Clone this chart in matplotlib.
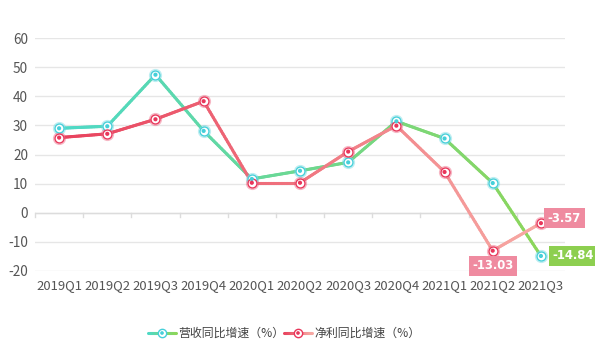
import numpy as np
import matplotlib
matplotlib.use("Agg")
import matplotlib.pyplot as plt
from matplotlib.collections import LineCollection
from matplotlib.colors import to_rgb

categories = ["2019Q1", "2019Q2", "2019Q3", "2019Q4", "2020Q1", "2020Q2",
              "2020Q3", "2020Q4", "2021Q1", "2021Q2", "2021Q3"]
revenue_yoy = [29.0, 29.7, 47.4, 28.1, 11.6, 14.4, 17.3, 31.4, 25.5, 10.2, -14.84]
profit_yoy = [25.8, 27.1, 32.1, 38.3, 10.3, 10.3, 21.0, 29.9, 14.0, -13.03, -3.57]
series_names = ["营收同比增速（%）", "净利同比增速（%）"]
y_ticks = [-20, -10, 0, 10, 20, 30, 40, 50, 60]

plt.rcParams['font.family'] = ['Noto Sans CJK SC', 'DejaVu Sans']

rev_c0, rev_c1 = "#4cd9c9", "#8dd65a"
pro_c0, pro_c1 = "#e8405c", "#f7aaa4"
rev_mk, pro_mk = "#45cfd9", "#e8365a"

W, H = 595, 353
fig = plt.figure(figsize=(W / 100, H / 100), dpi=100)
x0, x1, ytop, ybot = 35, 565, 38, 271
ax = fig.add_axes([x0 / W, 1 - ybot / H, (x1 - x0) / W, (ybot - ytop) / H])
ax.set_xlim(-0.5, len(categories) - 0.5)
ax.set_ylim(-20, 60)

for s in ax.spines.values():
    s.set_visible(False)
ax.set_yticks(y_ticks)
ax.set_yticklabels([str(v) for v in y_ticks])
ax.yaxis.grid(True, color="#e6e6e6", linewidth=1)
ax.set_axisbelow(True)
ax.tick_params(axis='y', length=0, pad=5, labelsize=9.8, labelcolor="#555555")
ax.set_xticks(range(len(categories)))
ax.set_xticklabels(categories)
ax.tick_params(axis='x', length=0, pad=6, labelsize=9.4, labelcolor="#555555")

# zero axis line with band ticks
ax.axhline(0, color="#dcdcdc", linewidth=1, zorder=1)
for b in np.arange(-0.5, len(categories), 1.0):
    ax.plot([b, b], [0, -1.6], color="#dcdcdc", linewidth=1, zorder=1, clip_on=False)


def gradient_line(axis, xs, ys, c0, c1, lw=2.2, z=3):
    xs = np.asarray(xs, float)
    ys = np.asarray(ys, float)
    segs, cols = [], []
    a0, a1 = to_rgb(c0), to_rgb(c1)
    xmin, xmax = xs.min(), xs.max()
    for i in range(len(xs) - 1):
        n = 30
        t = np.linspace(0, 1, n + 1)
        px = xs[i] + (xs[i + 1] - xs[i]) * t
        py = ys[i] + (ys[i + 1] - ys[i]) * t
        for k in range(n):
            segs.append([(px[k], py[k]), (px[k + 1], py[k + 1])])
            f = ((px[k] + px[k + 1]) / 2 - xmin) / (xmax - xmin)
            cols.append(tuple(a0[j] + (a1[j] - a0[j]) * f for j in range(3)))
    lc = LineCollection(segs, colors=cols, linewidths=lw, zorder=z,
                        capstyle='round', joinstyle='round')
    axis.add_collection(lc)


xs = np.arange(len(categories))
gradient_line(ax, xs, revenue_yoy, rev_c0, rev_c1)
gradient_line(ax, xs, profit_yoy, pro_c0, pro_c1)


def markers(axis, x, y, c, z=5):
    axis.scatter(x, y, s=72, facecolor="white", edgecolor=c, linewidth=1.0, zorder=z, alpha=0.35)
    axis.scatter(x, y, s=42, facecolor="white", edgecolor=c, linewidth=1.0, zorder=z + 0.1)
    axis.scatter(x, y, s=9, facecolor=c, edgecolor='none', zorder=z + 0.2)


markers(ax, xs, revenue_yoy, rev_mk)
markers(ax, xs, profit_yoy, pro_mk)

# value labels
lab_kw = dict(color="white", fontsize=8.4, fontweight='bold', family='DejaVu Sans', zorder=8)
ax.annotate(f"{profit_yoy[-1]:.2f}", (xs[-1], profit_yoy[-1]), xytext=(5, 3.5), textcoords='offset points',
            ha='left', va='center',
            bbox=dict(boxstyle='square,pad=0.3', fc="#ef8ba0", ec='none'), **lab_kw)
ax.annotate(f"{revenue_yoy[-1]:.2f}", (xs[-1], revenue_yoy[-1]), xytext=(8, 0), textcoords='offset points',
            ha='left', va='center',
            bbox=dict(boxstyle='square,pad=0.3', fc="#8dcf50", ec='none'), **lab_kw)
ax.annotate(f"{profit_yoy[-2]:.2f}", (xs[-2], profit_yoy[-2]), xytext=(0, -11), textcoords='offset points',
            ha='center', va='center',
            bbox=dict(boxstyle='square,pad=0.3', fc="#ef8ba0", ec='none'), **lab_kw)

# legend in pixel coordinates
lax = fig.add_axes([0, 0, 1, 1])
lax.set_xlim(0, W)
lax.set_ylim(H, 0)
lax.axis('off')
ly = 333
items = [(148, rev_c0, rev_c1, rev_mk, series_names[0]), (284, pro_c0, pro_c1, pro_mk, series_names[1])]
for lx, c0, c1, mk, name in items:
    gradient_line(lax, [lx, lx + 28], [ly, ly], c0, c1, lw=2.2)
    lax.scatter([lx + 14], [ly], s=36, facecolor="white", edgecolor=mk, linewidth=1.0, zorder=5)
    lax.scatter([lx + 14], [ly], s=7, facecolor=mk, edgecolor='none', zorder=6)
    lax.text(lx + 30, ly, name, va='center', ha='left', fontsize=8.6, color="#444444")

fig.savefig("out.png", dpi=100)
